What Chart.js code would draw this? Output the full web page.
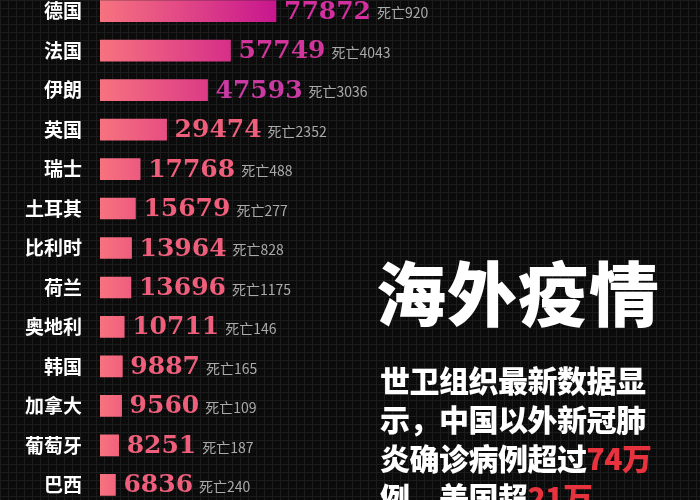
<!DOCTYPE html>
<html><head><meta charset="utf-8">
<script src="https://cdn.jsdelivr.net/npm/chart.js@4/dist/chart.umd.min.js"></script>
<style>
html,body{margin:0;padding:0;width:700px;height:500px;overflow:hidden;background:#0b0b0b;
background-image:linear-gradient(#1c1c1c 1px,transparent 1px),linear-gradient(90deg,#1c1c1c 1px,transparent 1px);background-size:8px 8px;}
#c{position:absolute;left:0;top:-30px;}
.t{position:absolute;color:#fff;font-family:"Noto Sans CJK SC";font-weight:900;white-space:nowrap;}
.r{color:#e8333f;}
</style></head><body>
<canvas id="c" width="700" height="556"></canvas>
<div class="t" style="left:376px;top:240px;font-size:70px;letter-spacing:1px;">海外疫情</div>
<div class="t" style="left:380px;top:360px;font-size:30px;line-height:39px;letter-spacing:-0.5px;">世卫组织最新数据显<br>示，中国以外新冠肺<br>炎确诊病例超过<span class="r">74万</span><br>例，美国超<span class="r">21万</span></div>
<script>
const countries=["德国","法国","伊朗","英国","瑞士","土耳其","比利时","荷兰","奥地利","韩国","加拿大","葡萄牙","巴西"];
const cases=[77872,57749,47593,29474,17768,15679,13964,13696,10711,9887,9560,8251,6836];
const deaths=[920,4043,3036,2352,488,277,828,1175,146,165,109,187,240];
const valueColors=["#d42f9e","#d2369c","#c93aa2","#ef5f7c","#ef5f7c","#ef5f7c","#ef5f7c","#ef5f7c","#ef5f7c","#ef5f7c","#ef5f7c","#ef5f7c","#ef5f7c"];
function mix(a,b,t){const p=s=>[1,3,5].map(i=>parseInt(s.substr(i,2),16));const A=p(a),B=p(b);return 'rgb('+A.map((v,i)=>Math.round(v+(B[i]-v)*t)).join(',')+')';}
const labelPlugin={id:'lbl',afterDatasetsDraw(ch){const ctx=ch.ctx;const meta=ch.getDatasetMeta(0);
ctx.save();ctx.textBaseline='middle';
meta.data.forEach((b,i)=>{const x=b.x+8;ctx.font='bold 25px "DejaVu Serif","Liberation Serif",serif';ctx.fillStyle=valueColors[i];ctx.textAlign='left';
const s=String(cases[i]);ctx.fillText(s,x,b.y+1);const w=ctx.measureText(s).width;
ctx.font='14px "Noto Sans CJK SC"';ctx.fillStyle='#aaaaaa';ctx.fillText('死亡'+deaths[i],x+w+6,b.y+2);});
ctx.restore();}};
new Chart(document.getElementById('c'),{type:'bar',
data:{labels:countries,datasets:[{data:cases,barThickness:21,borderWidth:0,
backgroundColor(c){const ch=c.chart;if(!ch.chartArea)return '#f56a7c';const xs=ch.scales.x;const x0=xs.getPixelForValue(0);const v=cases[c.dataIndex];const x1=xs.getPixelForValue(v);
const g=ch.ctx.createLinearGradient(x0,0,x1,0);g.addColorStop(0,'#f7737f');g.addColorStop(1,mix('#f5687c','#c8168e',Math.pow(v/cases[0],1.2)));return g;}}]},
plugins:[labelPlugin],
options:{indexAxis:'y',responsive:false,animation:false,devicePixelRatio:1,
layout:{padding:{left:0,top:0,bottom:0,right:374}},
plugins:{legend:{display:false},tooltip:{enabled:false}},
scales:{x:{min:0,max:100000,display:false},
y:{grid:{display:false},border:{display:false},ticks:{color:'#ffffff',padding:10,font:{family:'"Noto Sans CJK SC"',weight:'bold',size:19}},afterFit(s){s.width=100;}}}}});
</script></body></html>
